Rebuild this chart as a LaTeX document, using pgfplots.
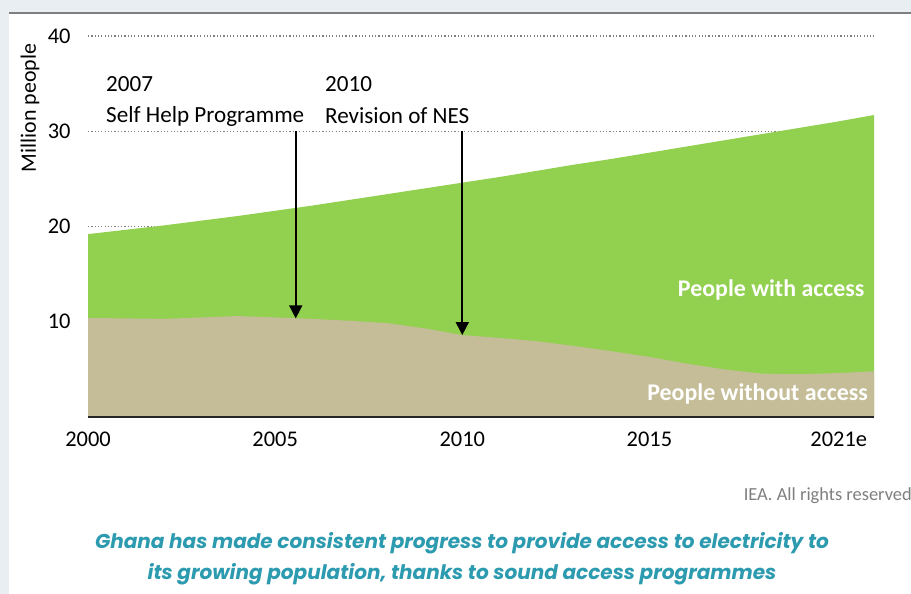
\documentclass[border=0pt]{standalone}
\usepackage{pgfplots}
\pgfplotsset{compat=1.18}
\usepackage{fontspec}
\setmainfont{Carlito}
\newfontfamily\capfont{Poppins}
\usetikzlibrary{arrows.meta}

\definecolor{panelbg}{HTML}{E9EEF3}
\definecolor{rulegray}{HTML}{7F7F7F}
\definecolor{accgreen}{HTML}{92D050}
\definecolor{noacc}{HTML}{C4BD97}
\definecolor{capteal}{HTML}{2C9AAF}

\begin{document}
\begin{tikzpicture}[x=1bp,y=1bp]
% page frame: light strips, grey rule, white panel
\fill[panelbg] (0,0) rectangle (911,594);
\fill[white] (9,0) rectangle (911,580);
\fill[rulegray] (9,579.5) rectangle (911,581.5);
\path[use as bounding box] (0,0) rectangle (911,594);

\begin{axis}[
    at={(88bp,177bp)}, anchor=south west,
    scale only axis,
    width=786bp, height=381bp,
    xmin=2000, xmax=2021,
    ymin=0, ymax=40,
    axis x line*=bottom,
    axis y line*=left,
    axis line style={draw=none},
    tick style={draw=none},
    xtick={2000,2005,2010,2015,2021},
    xticklabels={2000,2005,2010,2015,{\makebox[0pt][r]{2021e\hspace{7bp}}}},
    ytick={10,20,30,40},
    ymajorgrids,
    grid style={rulegray, line width=1.3bp, dash pattern=on 1.2bp off 2.1bp},
    /pgf/number format/assume math mode=true,
    tick label style={font=\fontsize{22.5}{26}\selectfont},
    yticklabel style={xshift=-14bp},
    xticklabel style={yshift=-11bp},
    clip=false,
]
% total population (million)
\addplot[fill=accgreen, draw=none] table {
2000 19.2
2001 19.65
2002 20.1
2003 20.6
2004 21.1
2005 21.65
2006 22.2
2007 22.8
2008 23.4
2009 24.0
2010 24.6
2011 25.2
2012 25.85
2013 26.5
2014 27.1
2015 27.75
2016 28.4
2017 29.05
2018 29.7
2019 30.35
2020 31.0
2021 31.7
} \closedcycle;
% people without access (million)
\addplot[fill=noacc, draw=none] table {
2000 10.4
2001 10.35
2002 10.3
2003 10.45
2004 10.6
2005 10.45
2006 10.3
2007 10.1
2008 9.85
2009 9.3
2010 8.6
2011 8.3
2012 7.95
2013 7.45
2014 6.9
2015 6.3
2016 5.6
2017 5.0
2018 4.55
2019 4.5
2020 4.6
2021 4.8
} \closedcycle;

% baseline
\draw[black!85, line width=1.2bp] (axis cs:2000,0) -- (axis cs:2021,0);

\draw[black, line width=1.6bp, -{Triangle[width=13bp,length=13bp]}]
    (axis cs:2005.55,30) -- (axis cs:2005.55,10.35);
\draw[black, line width=1.6bp, -{Triangle[width=13bp,length=13bp]}]
    (axis cs:2010,30) -- (axis cs:2010,8.6);

\node[anchor=west, inner sep=0pt, font=\fontsize{23.2}{27}\selectfont] at (axis cs:2000.48,35.0) {2007};
\node[anchor=west, inner sep=0pt, font=\fontsize{23.2}{27}\selectfont] at (axis cs:2000.48,31.6) {Self Help Programme};
\node[anchor=west, inner sep=0pt, font=\fontsize{23.2}{27}\selectfont] at (axis cs:2006.33,35.0) {2010};
\node[anchor=west, inner sep=0pt, font=\fontsize{23.2}{27}\selectfont] at (axis cs:2006.33,31.6) {Revision of NES};

\node[anchor=east, inner sep=0pt, text=white, font=\fontsize{24}{28}\selectfont\bfseries]
    at (axis cs:2020.75,13.3) {People with access};
\node[anchor=east, inner sep=0pt, text=white, font=\fontsize{24}{28}\selectfont\bfseries]
    at (axis cs:2020.84,2.4) {People without access};
\end{axis}

\node[rotate=90, inner sep=0pt, font=\fontsize{22}{26}\selectfont] at (30,486) {Million people};
\node[anchor=east, inner sep=0pt, text=rulegray, font=\fontsize{18.5}{22}\selectfont] at (912,98) {IEA. All rights reserved};
\node[inner sep=0pt, text=capteal, font=\capfont\bfseries\itshape\fontsize{20.1}{24}\selectfont] at (462,51) {Ghana has made consistent progress to provide access to electricity to};
\node[inner sep=0pt, text=capteal, font=\capfont\bfseries\itshape\fontsize{20.1}{24}\selectfont] at (462,20) {its growing population, thanks to sound access programmes};
\end{tikzpicture}
\end{document}
